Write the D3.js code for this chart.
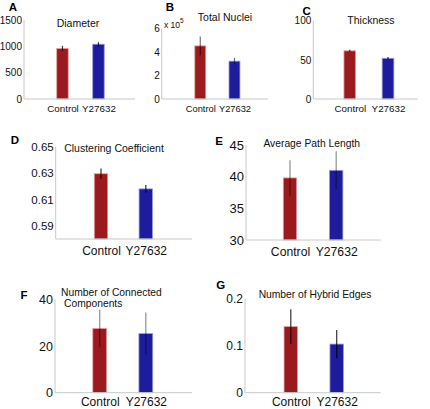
<!DOCTYPE html>
<html>
<head>
<meta charset="utf-8">
<script src="https://cdn.jsdelivr.net/npm/d3@7"></script>
<style>
  html, body { margin: 0; padding: 0; background: #fff; }
  svg { display: block; font-family: "Liberation Sans", Arial, Helvetica, sans-serif; }
</style>
</head>
<body>
<svg id="chart" width="430" height="409"></svg>
<script>
// ---------- data ----------
const categories = ["Control", "Y27632"];

const diameterValues = [960, 1040];
const diameterErrors = [50, 40];
const diameterTicks = [0, 500, 1000, 1500];

const nucleiValues = [4.52, 3.22];
const nucleiErrors = [0.8, 0.28];
const nucleiTicks = [0, 2, 4, 6];

const thicknessValues = [61.5, 52];
const thicknessErrors = [1.3, 1.5];
const thicknessTicks = [0, 50, 100];

const clusteringValues = [0.6295, 0.6180];
const clusteringErrors = [0.004, 0.003];
const clusteringTicks = [0.59, 0.61, 0.63, 0.65];

const pathLengthValues = [39.8, 41.0];
const pathLengthErrors = [2.8, 3.0];
const pathLengthTicks = [30, 35, 40, 45];

const componentsValues = [27.5, 25.3];
const componentsErrors = [8, 9];
const componentsTicks = [0, 20, 40];

const hybridValues = [0.140, 0.103];
const hybridErrors = [0.037, 0.030];
const hybridTicks = [0, 0.1, 0.2];

const panelLetters = ["A", "B", "C", "D", "E", "F", "G"];
const panelTitles = [
  ["Diameter"], ["Total Nuclei"], ["Thickness"], ["Clustering Coefficient"],
  ["Average Path Length"], ["Number of Connected", "Components"], ["Number of Hybrid Edges"]
];

// ---------- layout / style ----------
const colors = ["#9b1a1e", "#1c1c9c"];
const strokes = ["#e3a0a4", "#9a9ad8"];

const panels = [
  { values: diameterValues, errors: diameterErrors, ticks: diameterTicks, domain: [0, 1500],
    x0: 24, x1: 135, yTop: 20, yBot: 99, pad: 1.042, align: 0.513, barFrac: 0.32,
    tickFont: 10, catFont: 9.8, catY: 112,
    titleFont: 10.5, titleX: 78, titleY: 27, titleAnchor: "middle", letterX: 13, letterY: 10.5,
    errOp: 0.75, fmt: d => d },
  { values: nucleiValues, errors: nucleiErrors, ticks: nucleiTicks, domain: [0, 6],
    x0: 161.7, x1: 268, yTop: 28.5, yBot: 99, pad: 1.054, align: 0.535, barFrac: 0.32,
    tickFont: 10, catFont: 9.3, catY: 112,
    titleFont: 10.5, titleX: 225, titleY: 21, titleAnchor: "middle", letterX: 170, letterY: 11,
    errOp: 0.55, fmt: d => d },
  { values: thicknessValues, errors: thicknessErrors, ticks: thicknessTicks, domain: [0, 100],
    x0: 313.3, x1: 418, yTop: 20.7, yBot: 99, pad: 0.87, align: 0.549, barFrac: 0.306,
    tickFont: 10, catFont: 9.8, catY: 112,
    titleFont: 10.5, titleX: 371, titleY: 24, titleAnchor: "middle", letterX: 306.7, letterY: 14.5,
    errOp: 0.75, fmt: d => d },
  { values: clusteringValues, errors: clusteringErrors, ticks: clusteringTicks, domain: [0.58, 0.65],
    x0: 55.7, x1: 192, yTop: 146.7, yBot: 239, pad: 1.021, align: 0.495, barFrac: 0.3,
    tickFont: 11.5, catFont: 12, catY: 254.5,
    titleFont: 10.5, titleX: 114, titleY: 152, titleAnchor: "middle", letterX: 15, letterY: 143.5,
    errOp: 0.8, fmt: d => d.toFixed(2) },
  { values: pathLengthValues, errors: pathLengthErrors, ticks: pathLengthTicks, domain: [30, 45],
    x0: 246, x1: 380.7, yTop: 145, yBot: 240, pad: 0.958, align: 0.497, barFrac: 0.29,
    tickFont: 13, catFont: 12.2, catY: 255.5,
    titleFont: 10.3, titleX: 311.7, titleY: 146.5, titleAnchor: "middle", letterX: 219, letterY: 144.5,
    errOp: 0.45, fmt: d => d },
  { values: componentsValues, errors: componentsErrors, ticks: componentsTicks, domain: [0, 40],
    x0: 55, x1: 192, yTop: 299.3, yBot: 392.7, pad: 0.986, align: 0.492, barFrac: 0.3,
    tickFont: 12.5, catFont: 12, catY: 406,
    titleFont: 10.3, titleX: 61, titleY: 295.5, titleAnchor: "start", letterX: 24, letterY: 298.5,
    errOp: 0.45, fmt: d => d },
  { values: hybridValues, errors: hybridErrors, ticks: hybridTicks, domain: [0, 0.2],
    x0: 245, x1: 380.7, yTop: 298.3, yBot: 392.7, pad: 0.978, align: 0.51, barFrac: 0.294,
    tickFont: 12, catFont: 12, catY: 406,
    titleFont: 10.3, titleX: 315, titleY: 298, titleAnchor: "middle", letterX: 220.7, letterY: 288.5,
    errOp: 0.8, fmt: d => d }
];

const svg = d3.select("#chart");

panels.forEach((p, i) => {
  const g = svg.append("g");
  const y = d3.scaleLinear().domain(p.domain).range([p.yBot, p.yTop]);
  const x = d3.scalePoint().domain(categories).range([p.x0, p.x1]).padding(p.pad).align(p.align);
  const barW = x.step() * p.barFrac;

  // bars
  g.selectAll("rect.bar").data(categories).enter().append("rect")
    .attr("class", "bar")
    .attr("x", d => x(d) - barW / 2)
    .attr("width", barW)
    .attr("y", (d, j) => y(p.values[j]))
    .attr("height", (d, j) => y(p.domain[0]) - y(p.values[j]))
    .attr("fill", (d, j) => colors[j])
    .attr("stroke", (d, j) => strokes[j])
    .attr("stroke-width", 0.8);

  // error bars
  g.selectAll("line.err").data(categories).enter().append("line")
    .attr("class", "err")
    .attr("x1", d => x(d)).attr("x2", d => x(d))
    .attr("y1", (d, j) => y(p.values[j] + p.errors[j]))
    .attr("y2", (d, j) => y(p.values[j] - p.errors[j]))
    .attr("stroke", "#000")
    .attr("stroke-opacity", p.errOp)
    .attr("stroke-width", 1.2);

  // y axis
  const yAxis = d3.axisLeft(y).tickValues(p.ticks).tickSize(0).tickPadding(2).tickFormat(p.fmt);
  const ya = g.append("g").attr("transform", `translate(${p.x0},0)`).call(yAxis);
  ya.select(".domain").attr("stroke", "#c8c8c8").attr("d", `M0,${p.yTop}V${p.yBot}`);
  ya.selectAll("text").attr("font-size", p.tickFont).attr("fill", "#111")
    .attr("font-family", "'Liberation Sans', Arial, sans-serif");

  // x axis
  const xAxis = d3.axisBottom(x).tickSize(0).tickPadding(0);
  const xa = g.append("g").attr("transform", `translate(0,${p.yBot})`).call(xAxis);
  xa.select(".domain").attr("stroke", "#c8c8c8").attr("d", `M${p.x0},0H${p.x1}`);
  xa.selectAll("text").attr("font-size", p.catFont).attr("fill", "#111")
    .attr("dy", null).attr("y", p.catY - p.yBot)
    .attr("font-family", "'Liberation Sans', Arial, sans-serif");

  // title
  const t = g.append("text")
    .attr("x", p.titleX).attr("y", p.titleY)
    .attr("text-anchor", p.titleAnchor)
    .attr("font-size", p.titleFont).attr("fill", "#111");
  panelTitles[i].forEach((line, k) => {
    t.append("tspan").attr("x", p.titleX + (k > 0 ? 3 : 0)).attr("dy", k === 0 ? 0 : 11.6).text(line);
  });

  // panel letter
  g.append("text").attr("x", p.letterX).attr("y", p.letterY)
    .attr("text-anchor", "middle").attr("font-size", 11.5).attr("font-weight", "bold")
    .attr("fill", "#000").text(panelLetters[i]);
});

// exponent label for panel B
const expo = svg.append("text").attr("x", 164).attr("y", 28)
  .attr("font-size", 8.5).attr("fill", "#111");
expo.append("tspan").text("x 10");
expo.append("tspan").attr("dy", -5).attr("font-size", 6.5).text("5");
</script>
</body>
</html>
